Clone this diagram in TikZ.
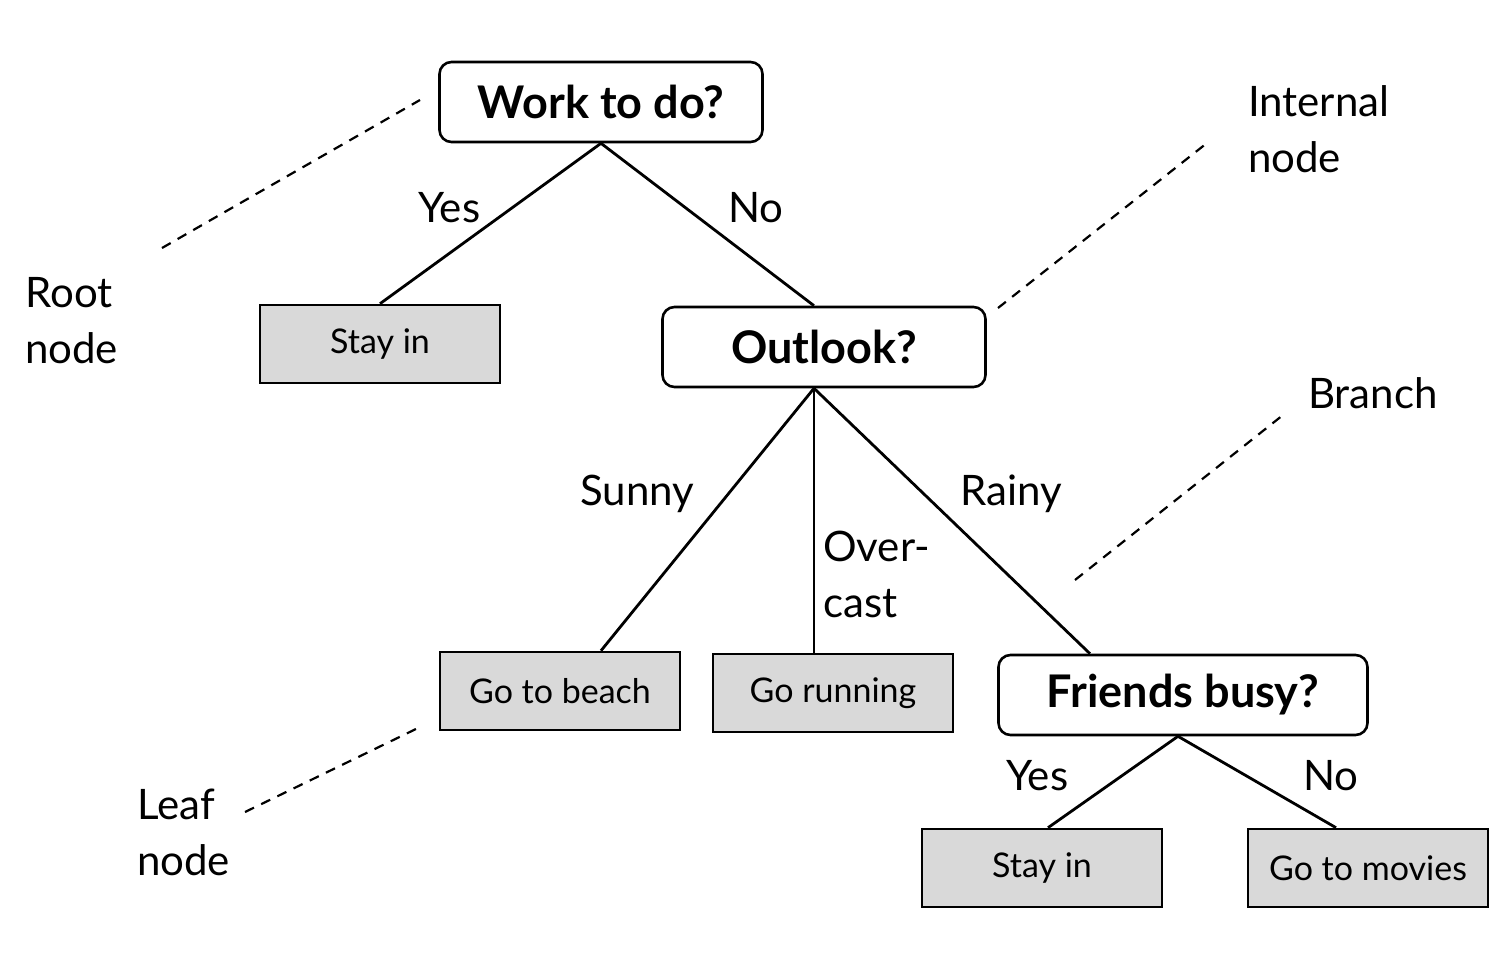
\documentclass[tikz,border=0pt]{standalone}
\usepackage{fontspec}
\setmainfont{Lato}
\usepackage{tikz}
\usetikzlibrary{calc,positioning}

\definecolor{leafgray}{HTML}{D9D9D9}

\tikzset{
    decision/.style={draw, rounded corners=12pt, line width=2.6pt, inner sep=0pt,
        minimum width=323pt, minimum height=80pt, font=\fontsize{45}{52}\selectfont\bfseries},
    leaf/.style={draw, fill=leafgray, line width=2.6pt, inner sep=0pt,
        minimum width=240pt, minimum height=78pt, font=\fontsize{34}{40}\selectfont},
    lbl/.style={inner sep=0pt, anchor=base west, align=left, font=\fontsize{42}{56}\selectfont},
    branch/.style={line width=2.8pt},
    pointer/.style={line width=2.2pt, dash pattern=on 10pt off 8pt}
}

\begin{document}
\begin{tikzpicture}[x=1pt,y=-1pt]
    \useasboundingbox (0,0) rectangle (1500,978);
    \node[decision] (Work) at (601,102) {Work to do?};
    \node[leaf] (stay_in) at (380,344) {Stay in};
    \node[decision] (Outlook) at (824,347) {Outlook?};
    \node[leaf] (go_beach) at (560,691) {Go to beach};
    \node[leaf] (go_running) at (833,693) {Go running};
    \node[decision, minimum width=369pt] (Friends) at (1183,695) {Friends busy?};
    \node[leaf] (stay_home) at (1042,868) {Stay in};
    \node[leaf] (go_movies) at (1368,868) {Go to movies};
    %
    \draw[branch] (Work.south) -- (stay_in.north);
    \draw[branch] (Work.south) -- ([xshift=-10pt]Outlook.north);
    \draw[branch] ([xshift=-10pt]Outlook.south) -- ([xshift=41pt]go_beach.north);
    \draw[branch] ([xshift=-10pt]Outlook.south) -- ([xshift=-19pt]go_running.north);
    \draw[branch] ([xshift=-10pt]Outlook.south) -- ([xshift=-93pt]Friends.north);
    \draw[branch] ([xshift=-5pt]Friends.south) -- ([xshift=6pt]stay_home.north);
    \draw[branch] ([xshift=-5pt]Friends.south) -- ([xshift=-32pt]go_movies.north);
    %
    \node[lbl] (yes_work) at (418,222) {Yes};
    \node[lbl] (no_work) at (728,222) {No};
    \node[lbl] (sunny) at (580,505) {Sunny};
    \node[lbl] (overcast) at (823,617) {Over-\\cast};
    \node[lbl] (rainy) at (960,505) {Rainy};
    \node[lbl] (yes_friends) at (1006,790) {Yes};
    \node[lbl] (no_friends) at (1303,790) {No};
    %
    \node[lbl] (root_txt) at (25,363) {Root\\node};
    \node[lbl] (internal_txt) at (1248,172) {Internal\\node};
    \node[lbl] (branch_txt) at (1308,408) {Branch};
    \node[lbl] (leaf_txt) at (137,875) {Leaf\\node};
    %
    \coordinate (root_a) at (162,248);
    \coordinate (root_b) at (420,100);
    \coordinate (internal_a) at (998,308);
    \coordinate (internal_b) at (1207,143);
    \coordinate (branch_a) at (1075,580);
    \coordinate (branch_b) at (1283,415);
    \coordinate (leaf_a) at (245,812);
    \coordinate (leaf_b) at (418,728);
    \draw[pointer] (root_a) -- (root_b);
    \draw[pointer] (internal_a) -- (internal_b);
    \draw[pointer] (branch_a) -- (branch_b);
    \draw[pointer] (leaf_a) -- (leaf_b);
\end{tikzpicture}
\end{document}
